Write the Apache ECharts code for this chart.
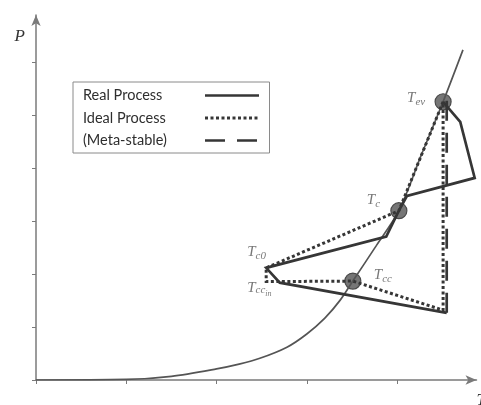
<!DOCTYPE html>
<html>
<head>
<meta charset="utf-8">
<style>
  html, body { margin: 0; padding: 0; background: #fff; }
  #chart { width: 481px; height: 405px; }
</style>
<script src="https://cdn.jsdelivr.net/npm/echarts@6/dist/echarts.min.js"></script>
</head>
<body>
<div id="chart"></div>
<script>
// Saturation curve P(T)
const curveT = [0, 1.0, 1.5, 2.0, 2.25, 2.48, 2.78, 3.0, 3.2, 3.37, 3.51, 3.77, 4.02, 4.27, 4.51, 4.73];
const curveP = [0, 0.01, 0.07, 0.21, 0.30, 0.41, 0.62, 0.87, 1.17, 1.51, 1.87, 2.54, 3.20, 4.26, 5.26, 6.24];

// Real process loop
const realT = [4.51, 4.70, 4.86, 4.11, 4.02, 3.88, 2.55, 2.70, 4.55];
const realP = [5.26, 4.88, 3.82, 3.48, 3.20, 2.71, 2.12, 1.84, 1.27];

// Ideal process loop
const idealT = [4.51, 4.02, 2.55, 2.55, 3.51, 4.51, 4.51];
const idealP = [5.26, 3.20, 2.12, 1.86, 1.87, 1.32, 5.26];

// Meta-stable expansion
const metaT = [4.55, 4.55];
const metaP = [1.27, 5.30];

// Saturated states on the curve: T_ev, T_c, T_cc
const stateT = [4.51, 4.02, 3.51];
const stateP = [5.26, 3.20, 1.87];

// State labels and the points they are attached to
const labelNames = ['ev', 'c', 'cc', 'c0', 'ccin'];
const labelT = [4.51, 4.02, 3.51, 2.55, 2.55];
const labelP = [5.26, 3.20, 1.87, 2.12, 1.86];

// Axis tick values
const tickT = [0, 1, 2, 3, 4];
const tickP = [0, 1, 2, 3, 4, 5, 6];

const zip = (xs, ys) => xs.map((x, i) => [x, ys[i]]);

const ink = '#363636';
const serif = 'Liberation Serif';

const labelText = {
  ev: '{t|T}{s|ev}',
  c: '{t|T}{s|c}',
  cc: '{t|T}{s|cc}',
  c0: '{t|T}{s|c0}',
  ccin: '{t|T}{s2|cc}{ss|in}'
};
// offset of the label box (18px line) from its anchor point
const labelOffset = {
  ev: [-36, -13],
  c: [-32, -20],
  cc: [21, -15],
  c0: [-19, -25],
  ccin: [-19, -3]
};

// subscripts are lowered by padding their top edge
const base = { fontFamily: serif, fontStyle: 'italic', color: '#555', lineHeight: 18 };
const richLabel = {
  t:  Object.assign({ fontSize: 15 }, base),
  s:  Object.assign({ fontSize: 11, padding: [9, 0, 0, 0] }, base),
  s2: Object.assign({ fontSize: 11, padding: [5, 0, 0, 0] }, base),
  ss: Object.assign({ fontSize: 8, padding: [13, 0, 0, 0] }, base)
};

const labelData = labelNames.map((n, i) => ({
  value: [labelT[i], labelP[i]],
  label: {
    show: true,
    position: labelOffset[n],
    align: 'left',
    verticalAlign: 'top',
    formatter: labelText[n],
    rich: richLabel
  }
}));

const axisGrey = '#7a7a7a';

const option = {
  animation: false,
  backgroundColor: '#fff',
  grid: { left: 36, top: 15, right: 4.5, bottom: 25, outerBoundsMode: 'none', containLabel: false },
  legend: {
    orient: 'vertical',
    left: 73,
    top: 82,
    align: 'right',
    padding: [6, 9, 5, 10],
    itemGap: 7.5,
    itemWidth: 54,
    itemHeight: 14,
    borderColor: '#8a8a8a',
    borderWidth: 1,
    selectedMode: false,
    data: ['Real Process', 'Ideal Process', '(Meta-stable)'],
    itemStyle: { color: 'rgba(0,0,0,0)', borderWidth: 0 },
    lineStyle: { width: 'inherit' },
    formatter: '{n|{name}}',
    textStyle: {
      rich: {
        n: { width: 117, align: 'left', fontFamily: 'Lato', fontSize: 14.5, lineHeight: 14, color: '#2e2e2e' }
      }
    }
  },
  xAxis: {
    type: 'value',
    min: 0,
    max: 4.88,
    name: 'T',
    nameLocation: 'end',
    nameGap: 0,
    nameTextStyle: { fontFamily: serif, fontStyle: 'italic', fontSize: 17, color: '#333', align: 'left', verticalAlign: 'top', padding: [12, 0, 0, 0] },
    splitLine: { show: false },
    axisLabel: { show: false },
    axisTick: { show: true, length: 4, customValues: tickT, lineStyle: { color: axisGrey } },
    axisLine: { show: true, symbol: ['none', 'arrow'], symbolSize: [7, 11], lineStyle: { color: axisGrey, width: 1.5 } }
  },
  yAxis: {
    type: 'value',
    min: 0,
    max: 6.9,
    name: 'P',
    nameLocation: 'end',
    nameGap: -22,
    nameTextStyle: { fontFamily: serif, fontStyle: 'italic', fontSize: 17, color: '#333', align: 'right', verticalAlign: 'middle', padding: [0, 11, 0, 0] },
    splitLine: { show: false },
    axisLabel: { show: false },
    axisTick: { show: true, length: 4, customValues: tickP, lineStyle: { color: axisGrey } },
    axisLine: { show: true, symbol: ['none', 'arrow'], symbolSize: [7, 11], lineStyle: { color: axisGrey, width: 1.5 } }
  },
  series: [
    {
      name: 'saturation',
      type: 'line',
      data: zip(curveT, curveP),
      smooth: 0.3,
      symbol: 'none',
      lineStyle: { color: '#555', width: 1.7 },
      silent: true
    },
    {
      name: 'Real Process',
      type: 'line',
      data: zip(realT, realP),
      symbol: 'none',
      lineStyle: { color: ink, width: 2.7, join: 'miter' },
      silent: true
    },
    {
      name: 'Ideal Process',
      type: 'line',
      data: zip(idealT, idealP),
      symbol: 'none',
      lineStyle: { color: ink, width: 3, type: [3, 2.5], cap: 'butt', join: 'miter' },
      silent: true
    },
    {
      name: '(Meta-stable)',
      type: 'line',
      data: zip(metaT, metaP),
      symbol: 'none',
      lineStyle: { color: ink, width: 2.7, type: [20, 12], cap: 'butt' },
      silent: true
    },
    {
      name: 'states',
      type: 'scatter',
      data: zip(stateT, stateP),
      symbol: 'circle',
      symbolSize: 16,
      itemStyle: { color: '#767676', borderColor: '#4a4a4a', borderWidth: 1.2, opacity: 1 },
      silent: true
    },
    {
      name: 'stateLabels',
      type: 'scatter',
      data: labelData,
      symbolSize: 0,
      itemStyle: { color: 'rgba(0,0,0,0)' },
      silent: true
    }
  ]
};

const chart = echarts.init(document.getElementById('chart'), null, { renderer: 'canvas' });
chart.setOption(option);
</script>
</body>
</html>
